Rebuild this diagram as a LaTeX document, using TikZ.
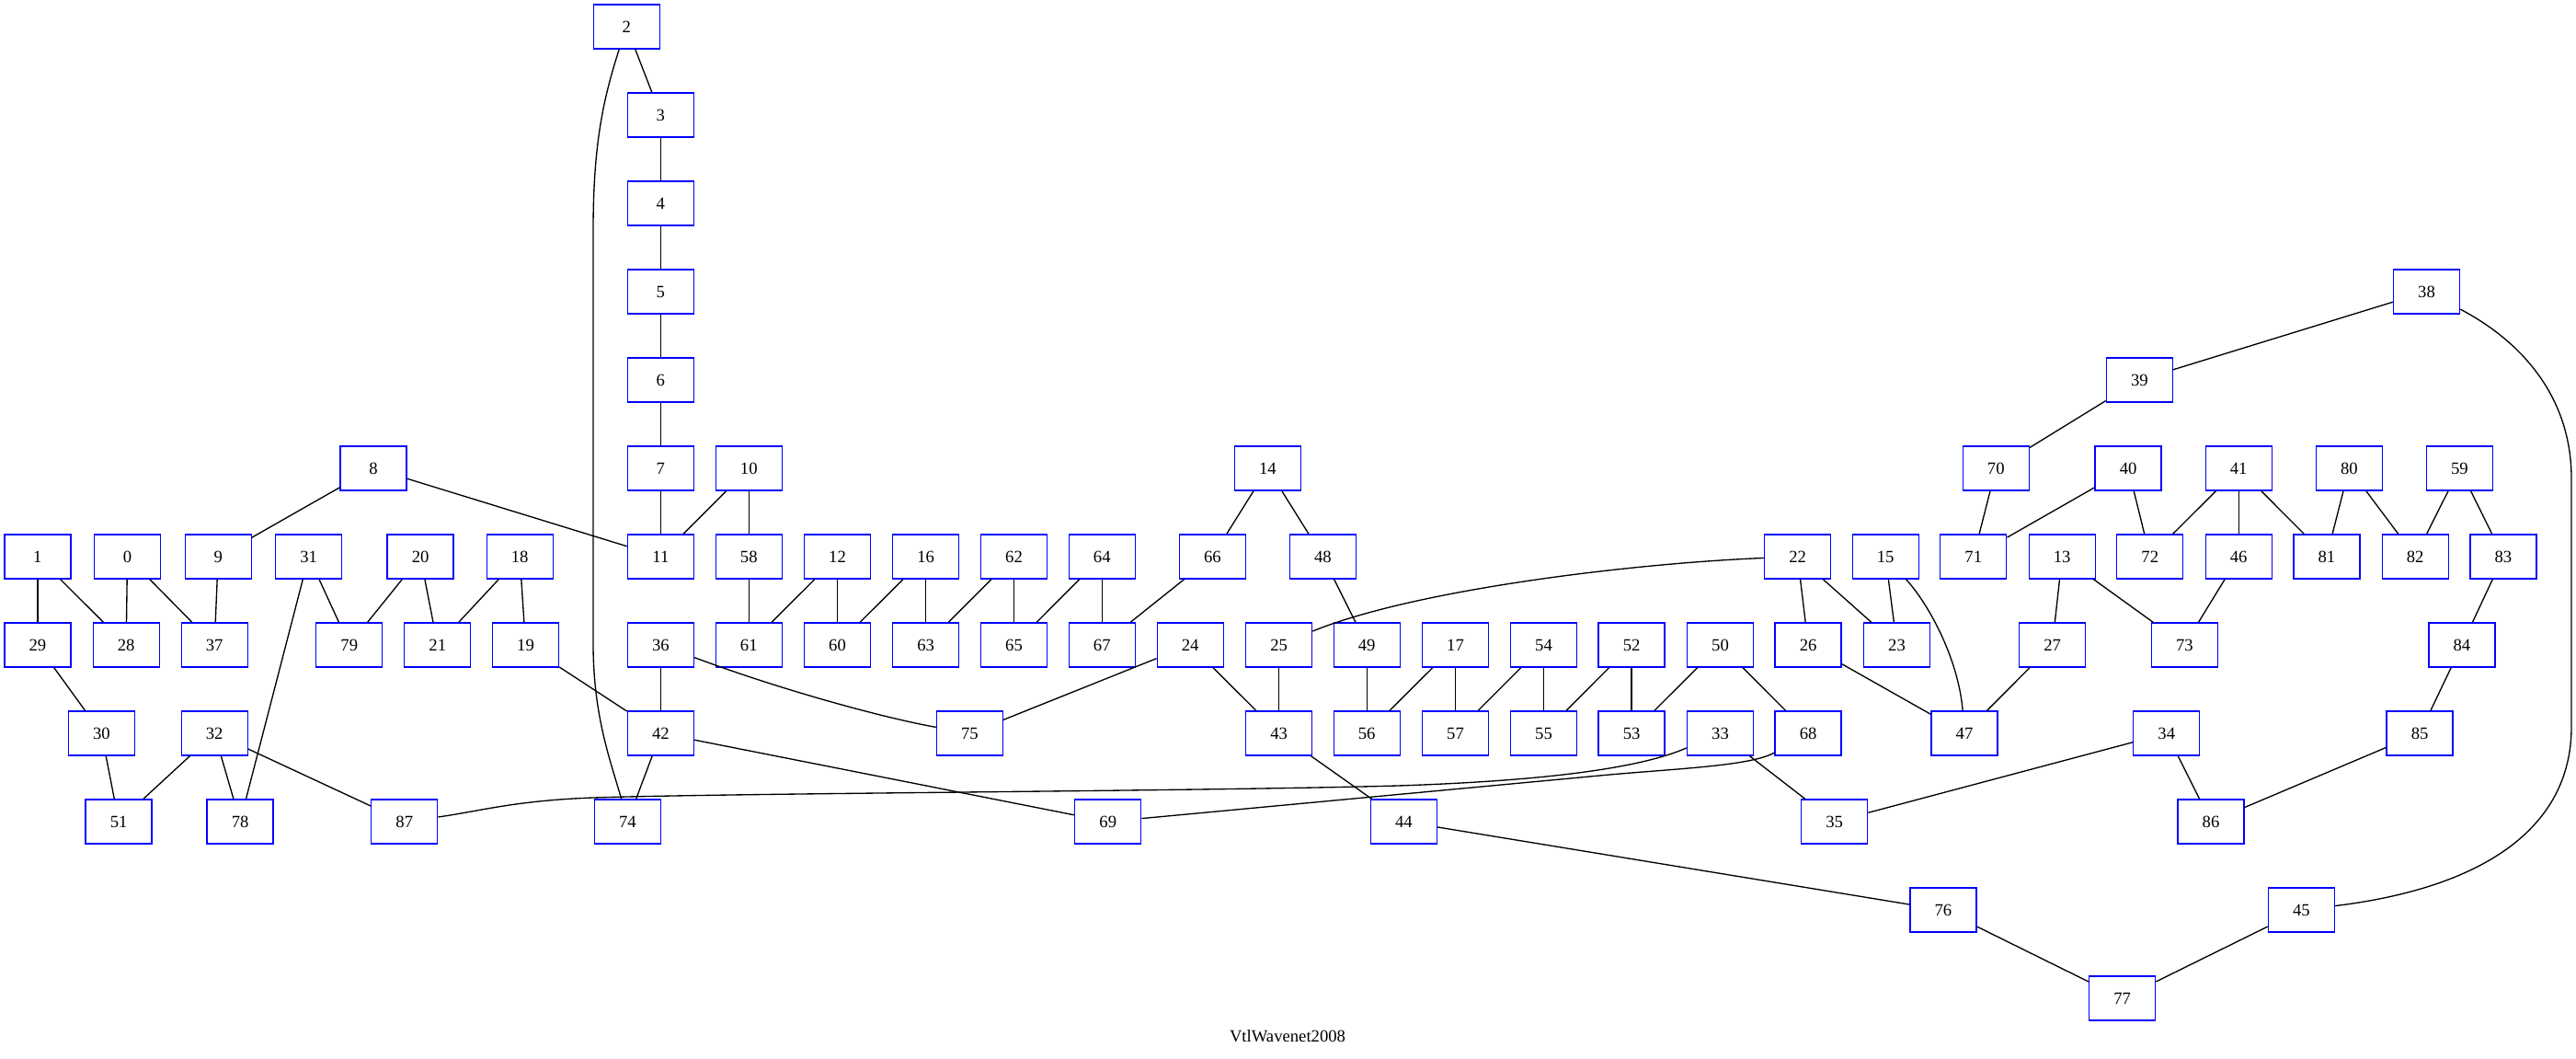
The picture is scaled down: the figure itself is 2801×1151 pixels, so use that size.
\documentclass[tikz,border=0pt]{standalone}
\usepackage{fontspec}
\setmainfont{Liberation Serif}
\begin{document}
\begin{tikzpicture}[x=0.75pt,y=-0.75pt,
  box/.style={draw=blue, line width=1pt, rectangle, minimum width=54pt, minimum height=36pt, inner sep=0pt, font=\fontsize{14}{16}\selectfont},
  edge/.style={line width=1pt, black}]
\useasboundingbox (0,0) rectangle (2801,1151);
% rank 0..4
\node[box] (n2) at (681.2,29) {2};
\node[box] (n3) at (718.4,125) {3};
\node[box] (n4) at (718.4,221) {4};
\node[box] (n5) at (718.4,317) {5};
\node[box] (n38) at (2638.5,317) {38};
\node[box] (n6) at (718.4,413) {6};
\node[box] (n39) at (2326.4,413) {39};
% rank 5
\foreach \n/\x in {7/718.4, 8/406, 10/814.3, 14/1378.4, 70/2170.3, 40/2314.1, 41/2434.2, 80/2554.3, 59/2674.4}
  \node[box] (n\n) at (\x,509) {\n};
% rank 6
\foreach \n/\x in {1/40.9, 0/138.5, 9/237.2, 31/335.7, 20/457.1, 18/565.2, 11/718.4, 58/814.3, 12/910.5, 16/1006.6, 62/1102.5, 64/1198.3, 66/1318.4, 48/1438.4, 22/1954.6, 15/2050.2, 71/2145.8, 13/2242.2, 72/2337.8, 46/2434.2, 81/2529.8, 82/2626.2, 83/2721.8}
  \node[box] (n\n) at (\x,605) {\n};
% rank 7
\foreach \n/\x in {29/40.9, 28/137.2, 37/233.2, 79/379.8, 21/475.8, 19/571.5, 36/718.4, 61/814.3, 60/910.5, 63/1006.6, 65/1102.5, 67/1198.3, 24/1294.2, 25/1390.6, 49/1486.2, 17/1582.5, 54/1678.5, 52/1774.1, 50/1870.5, 26/1966.1, 23/2062.5, 27/2231.6, 73/2375.4, 84/2676.9}
  \node[box] (n\n) at (\x,701) {\n};
% rank 8
\foreach \n/\x in {30/110.4, 32/233.2, 42/718.4, 75/1054.4, 43/1390.6, 56/1486.2, 57/1582.5, 55/1678.5, 53/1774.1, 33/1870.5, 68/1966.1, 47/2136, 34/2355.8, 85/2631.1}
  \node[box] (n\n) at (\x,797) {\n};
% rank 9
\foreach \n/\x in {51/129.1, 78/261.1, 87/439.8, 74/682.4, 69/1204.8, 44/1526.4, 35/1994.7, 86/2404}
  \node[box] (n\n) at (\x,893) {\n};
% rank 10, 11
\node[box] (n76) at (2112.9,989) {76};
\node[box] (n45) at (2502.4,989) {45};
\node[box] (n77) at (2307.6,1085) {77};
% title
\node[font=\fontsize{14}{16}\selectfont] (title) at (1400,1126) {VtlWavenet2008};
% straight edges
\foreach \a/\b in {2/3, 3/4, 4/5, 5/6, 6/7, 7/11, 8/9, 8/11, 10/11, 10/58, 58/61, 9/37, 1/29, 1/28, 0/28, 0/37, 29/30, 30/51, 32/51, 32/78, 32/87, 31/79, 31/78, 20/79, 20/21, 18/21, 18/19, 19/42, 36/42, 42/74, 42/69, 12/61, 12/60, 16/60, 16/63, 62/63, 62/65, 64/65, 64/67, 66/67, 14/66, 14/48, 48/49, 49/56, 24/75, 24/43, 25/43, 43/44, 44/76, 76/77, 17/56, 17/57, 54/57, 54/55, 52/55, 52/53, 50/53, 50/68, 33/35, 34/35, 34/86, 85/86, 84/85, 83/84, 59/83, 59/82, 80/82, 80/81, 41/81, 41/72, 41/46, 46/73, 13/73, 13/27, 27/47, 26/47, 22/26, 22/23, 15/23, 40/72, 40/71, 70/71, 39/70, 38/39, 45/77}
  \draw[edge] (n\a) -- (n\b);
% curved edges
\draw[edge] (n2) .. controls (655,110) and (645,160) .. (645,250) -- (645,700) .. controls (645,780) and (665,830) .. (n74);
\draw[edge] (n36) .. controls (850,750) and (960,780) .. (n75);
\draw[edge] (n22) .. controls (1780,612) and (1540,640) .. (n25);
\draw[edge] (n15) .. controls (2100,660) and (2130,720) .. (n47);
\draw[edge] (n33) .. controls (1790,832) and (1700,848) .. (1520,854) .. controls (1300,860) and (800,862) .. (645,867) .. controls (560,870) and (520,882) .. (n87);
\draw[edge] (n68) .. controls (1905,832) and (1830,835) .. (1750,842) -- (n69);
\draw[edge] (n38) .. controls (2740,370) and (2796,430) .. (2796,520) -- (2796,790) .. controls (2796,900) and (2700,965) .. (n45);
\end{tikzpicture}
\end{document}
